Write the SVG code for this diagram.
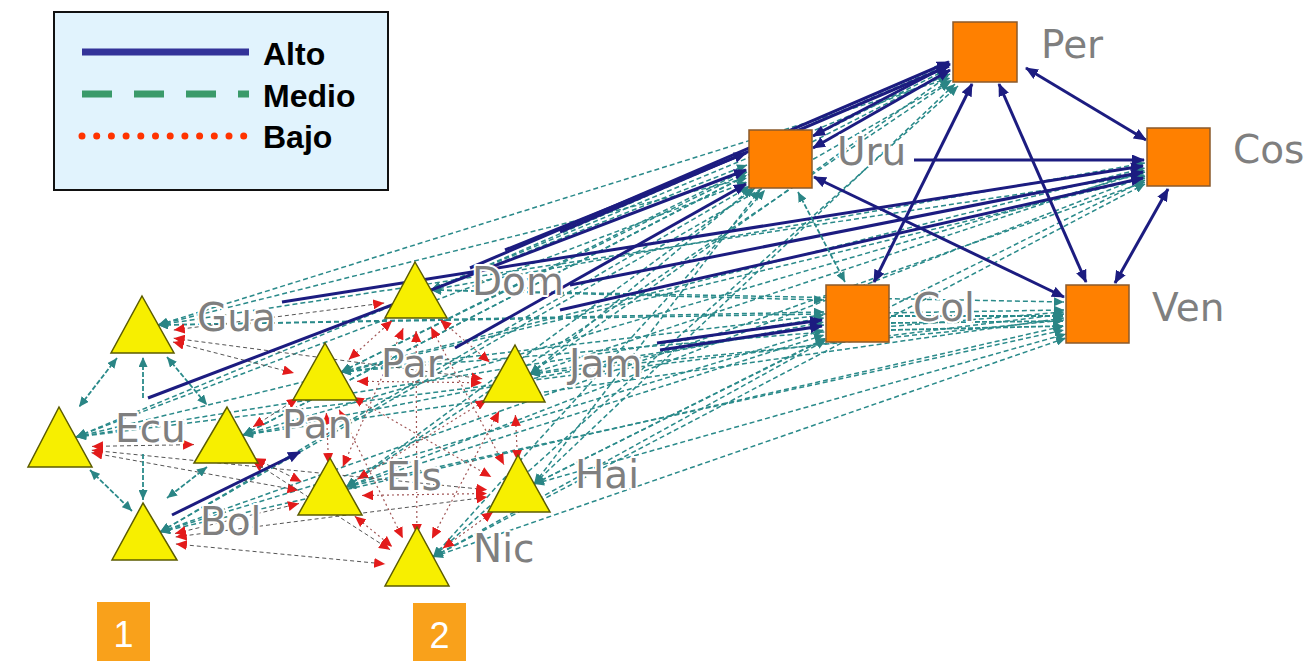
<svg xmlns="http://www.w3.org/2000/svg" width="1305" height="661" viewBox="0 0 1305 661">
<defs>
<marker id="an" markerUnits="userSpaceOnUse" markerWidth="13" markerHeight="11" refX="12" refY="5.5" orient="auto-start-reverse"><path d="M0,0 L13,5.5 L0,11 z" fill="#1c1c80"/></marker>
<marker id="at" markerUnits="userSpaceOnUse" markerWidth="10" markerHeight="9" refX="10" refY="4.5" orient="auto-start-reverse"><path d="M0,0 L10,4.5 L0,9 z" fill="#2a8585"/></marker>
<marker id="ar" markerUnits="userSpaceOnUse" markerWidth="11" markerHeight="10" refX="11" refY="5" orient="auto-start-reverse"><path d="M0,0 L11,5 L0,10 z" fill="#e31b1b"/></marker>
</defs>
<style>
.h{stroke:#1c1c80;stroke-width:3;fill:none;marker-end:url(#an)}
.hb{stroke:#1c1c80;stroke-width:3;fill:none;marker-end:url(#an);marker-start:url(#an)}
.m{stroke:#2a8a8a;stroke-width:1.5;stroke-dasharray:5 3;fill:none;marker-end:url(#at);marker-start:url(#at)}
.l{stroke:#a05555;stroke-width:1.2;stroke-dasharray:2 3;fill:none;marker-end:url(#ar);marker-start:url(#ar)}
.lt{stroke:#555;stroke-width:1;stroke-dasharray:4 3;fill:none;marker-end:url(#ar);marker-start:url(#ar)}
.ct{stroke:#2a8a8a;stroke-width:1.8;stroke-dasharray:5 2;fill:none;marker-end:url(#at);marker-start:url(#at)}
.tri{fill:#f7ef00;stroke:#5c5c00;stroke-width:1.5}
.sq{fill:#ff8000;stroke:#8b5a2b;stroke-width:1.5}
.lb{font-family:"DejaVu Sans",Verdana,sans-serif;font-size:39px;fill:#7f7f7f;stroke:#ffffff;stroke-width:4;paint-order:stroke;stroke-linejoin:round}
.lg{font-family:"Liberation Sans",Arial,sans-serif;font-size:32px;font-weight:bold;fill:#000}
.nb{font-family:"Liberation Sans",Arial,sans-serif;font-size:36px;fill:#ffffff}
</style>
<rect width="1305" height="661" fill="#ffffff"/>

<g id="legend">
<rect x="54" y="12" width="334" height="178" fill="#e1f3fd" stroke="#111" stroke-width="2"/>
<line x1="82" y1="52" x2="249" y2="52" stroke="#333399" stroke-width="7"/>
<line x1="82" y1="94" x2="249" y2="94" stroke="#3a9a6a" stroke-width="7" stroke-dasharray="30 22"/>
<line x1="82" y1="136" x2="249" y2="136" stroke="#ff3300" stroke-width="7" stroke-linecap="round" stroke-dasharray="0 14.7"/>
<text class="lg" x="263" y="65">Alto</text>
<text class="lg" x="263" y="107">Medio</text>
<text class="lg" x="263" y="148">Bajo</text>
</g>

<g id="connectors">
<line class="m" x1="158" y1="325" x2="950" y2="78"/>
<line class="m" x1="158" y1="325" x2="747" y2="178"/>
<line class="m" x1="158" y1="325" x2="1145" y2="175"/>
<line class="m" x1="158" y1="325" x2="824" y2="312"/>
<line class="m" x1="158" y1="325" x2="1064" y2="310"/>
<line class="m" x1="76" y1="437" x2="950" y2="74"/>
<line class="m" x1="76" y1="437" x2="747" y2="182"/>
<line class="m" x1="76" y1="437" x2="1145" y2="178"/>
<line class="m" x1="76" y1="437" x2="824" y2="318"/>
<line class="m" x1="76" y1="437" x2="1064" y2="314"/>
<line class="m" x1="160" y1="532" x2="952" y2="80"/>
<line class="m" x1="160" y1="532" x2="750" y2="186"/>
<line class="m" x1="160" y1="532" x2="1145" y2="182"/>
<line class="m" x1="160" y1="532" x2="824" y2="330"/>
<line class="m" x1="160" y1="532" x2="1064" y2="326"/>
<line class="m" x1="243" y1="435" x2="948" y2="72"/>
<line class="m" x1="243" y1="435" x2="747" y2="175"/>
<line class="m" x1="243" y1="435" x2="1145" y2="172"/>
<line class="m" x1="243" y1="435" x2="824" y2="322"/>
<line class="m" x1="243" y1="435" x2="1064" y2="318"/>
<line class="m" x1="341" y1="372" x2="946" y2="70"/>
<line class="m" x1="341" y1="372" x2="747" y2="172"/>
<line class="m" x1="341" y1="372" x2="1145" y2="168"/>
<line class="m" x1="341" y1="372" x2="824" y2="315"/>
<line class="m" x1="341" y1="372" x2="1064" y2="312"/>
<line class="m" x1="431" y1="290" x2="945" y2="66"/>
<line class="m" x1="431" y1="290" x2="747" y2="165"/>
<line class="m" x1="431" y1="290" x2="1145" y2="163"/>
<line class="m" x1="431" y1="290" x2="824" y2="300"/>
<line class="m" x1="431" y1="290" x2="1064" y2="302"/>
<line class="m" x1="530" y1="374" x2="948" y2="76"/>
<line class="m" x1="530" y1="374" x2="752" y2="188"/>
<line class="m" x1="530" y1="374" x2="1145" y2="170"/>
<line class="m" x1="530" y1="374" x2="824" y2="325"/>
<line class="m" x1="530" y1="374" x2="1064" y2="320"/>
<line class="m" x1="346" y1="487" x2="950" y2="82"/>
<line class="m" x1="346" y1="487" x2="755" y2="188"/>
<line class="m" x1="346" y1="487" x2="1145" y2="176"/>
<line class="m" x1="346" y1="487" x2="824" y2="335"/>
<line class="m" x1="346" y1="487" x2="1064" y2="330"/>
<line class="m" x1="534" y1="484" x2="955" y2="84"/>
<line class="m" x1="534" y1="484" x2="760" y2="190"/>
<line class="m" x1="534" y1="484" x2="1145" y2="180"/>
<line class="m" x1="534" y1="484" x2="826" y2="338"/>
<line class="m" x1="534" y1="484" x2="1066" y2="334"/>
<line class="m" x1="433" y1="557" x2="958" y2="86"/>
<line class="m" x1="433" y1="557" x2="765" y2="190"/>
<line class="m" x1="433" y1="557" x2="1145" y2="184"/>
<line class="m" x1="433" y1="557" x2="826" y2="340"/>
<line class="m" x1="433" y1="557" x2="1066" y2="338"/>
<line class="l" x1="348.8" y1="359.6" x2="392.2" y2="320.4"/>
<line class="l" x1="357" y1="381.3" x2="482" y2="382.7"/>
<line class="l" x1="326.4" y1="413" x2="328.6" y2="464"/>
<line class="l" x1="352.7" y1="397" x2="491.3" y2="477"/>
<line class="l" x1="339.2" y1="409.7" x2="402.8" y2="538.3"/>
<line class="l" x1="440.3" y1="319.8" x2="489.7" y2="362.2"/>
<line class="l" x1="403.2" y1="328.3" x2="342.8" y2="466.7"/>
<line class="l" x1="431" y1="327.3" x2="504" y2="464.7"/>
<line class="l" x1="416.1" y1="331" x2="416.9" y2="535"/>
<line class="l" x1="486.7" y1="399.7" x2="357.3" y2="479.3"/>
<line class="l" x1="515.4" y1="415" x2="517.6" y2="461"/>
<line class="l" x1="499.1" y1="411.3" x2="431.9" y2="538.7"/>
<line class="l" x1="362" y1="495.5" x2="487" y2="493.5"/>
<line class="l" x1="354.8" y1="516.2" x2="392.2" y2="546.8"/>
<line class="l" x1="493.1" y1="511.8" x2="442.9" y2="548.2"/>
<line class="lt" x1="173" y1="342" x2="294" y2="373"/>
<line class="lt" x1="173.8" y1="330" x2="384.2" y2="303"/>
<line class="lt" x1="92" y1="446.4" x2="194" y2="444.6"/>
<line class="lt" x1="91.5" y1="452.7" x2="298.5" y2="490.3"/>
<line class="lt" x1="175" y1="533.5" x2="299" y2="503.5"/>
<line class="lt" x1="175.9" y1="544" x2="385.1" y2="564"/>
<line class="lt" x1="254.6" y1="458.3" x2="301.4" y2="481.7"/>
<line class="lt" x1="253" y1="426.8" x2="298" y2="398.2"/>
<line class="lt" x1="252.9" y1="461.3" x2="390.1" y2="549.7"/>
<line class="lt" x1="173.7" y1="338.2" x2="482.3" y2="378.8"/>
<line class="lt" x1="91.8" y1="450.2" x2="487.2" y2="489.8"/>
<line class="lt" x1="175.7" y1="536.9" x2="487.3" y2="497.1"/>
<line class="ct" x1="117" y1="358" x2="79" y2="407"/>
<line class="ct" x1="143" y1="398" x2="143" y2="357" style="marker-start:none"/>
<line class="ct" x1="143" y1="454" x2="143" y2="500" style="marker-start:none"/>
<line class="ct" x1="90" y1="470" x2="132" y2="511"/>
<line class="ct" x1="167" y1="357" x2="207" y2="405"/>
<line class="ct" x1="207" y1="467" x2="167" y2="498"/>
<line class="h" x1="148" y1="398" x2="746" y2="170"/>
<line class="h" x1="282" y1="302" x2="1143" y2="166"/>
<line class="h" x1="505" y1="250" x2="746" y2="153"/>
<line class="h" x1="570" y1="285" x2="1143" y2="172"/>
<line class="h" x1="560" y1="232" x2="949" y2="66"/>
<line class="h" x1="470" y1="268" x2="949" y2="62"/>
<line class="h" x1="455" y1="348" x2="746" y2="184"/>
<line class="h" x1="560" y1="310" x2="1143" y2="178"/>
<line class="h" x1="657" y1="343" x2="822" y2="320"/>
<line class="h" x1="660" y1="350" x2="822" y2="326"/>
<line class="h" x1="172" y1="515" x2="300" y2="452"/>
<line class="hb" x1="813" y1="136" x2="950" y2="64"/>
<line class="hb" x1="813" y1="148" x2="950" y2="70"/>
<line class="hb" x1="1026" y1="68" x2="1146" y2="140"/>
<line class="hb" x1="972" y1="84" x2="874" y2="282"/>
<line class="hb" x1="999" y1="84" x2="1086" y2="282"/>
<line class="h" x1="914" y1="160" x2="1144" y2="160"/>
<line class="hb" x1="814" y1="177" x2="1064" y2="297"/>
<line class="hb" x1="1168" y1="189" x2="1115" y2="283"/>
<line class="ct" x1="798" y1="192" x2="845" y2="282"/>
<line class="ct" x1="891" y1="316" x2="1063" y2="316" style="marker-start:none"/>
<line class="ct" x1="891" y1="323" x2="1063" y2="321" style="marker-start:none"/>
<line class="ct" x1="891" y1="330" x2="1063" y2="326" style="marker-start:none"/>
</g>

<g id="node-gua"><polygon class="tri" points="142,296 174,353 111,353"/><text class="lb" x="197" y="331">Gua</text></g>
<g id="node-ecu"><polygon class="tri" points="59,407 92,467 28,467"/><text class="lb" x="115" y="442">Ecu</text></g>
<g id="node-bol"><polygon class="tri" points="143,503 177,560 112,560"/><text class="lb" x="200" y="535">Bol</text></g>
<g id="node-pan"><polygon class="tri" points="227,407 258,463 194,463"/><text class="lb" x="282" y="438">Pan</text></g>
<g id="node-par"><polygon class="tri" points="325,343 357,400 293,400"/><text class="lb" x="381" y="377">Par</text></g>
<g id="node-dom"><polygon class="tri" points="415,262 447,318 385,318"/><text class="lb" x="472" y="295">Dom</text></g>
<g id="node-jam"><polygon class="tri" points="515,345 545,402 483,402"/><text class="lb" x="569" y="377">Jam</text></g>
<g id="node-els"><polygon class="tri" points="330,458 362,515 298,515"/><text class="lb" x="386" y="490">Els</text></g>
<g id="node-hai"><polygon class="tri" points="518,455 550,512 488,512"/><text class="lb" x="575" y="488">Hai</text></g>
<g id="node-nic"><polygon class="tri" points="417,527 449,586 385,586"/><text class="lb" x="473" y="562">Nic</text></g>

<g id="node-per"><rect class="sq" x="953" y="22" width="64" height="60"/><text class="lb" x="1041" y="58">Per</text></g>
<g id="node-uru"><rect class="sq" x="749" y="130" width="63" height="58"/><text class="lb" x="837" y="165">Uru</text></g>
<g id="node-cos"><rect class="sq" x="1147" y="128" width="63" height="58"/><text class="lb" x="1233" y="163">Cos</text></g>
<g id="node-col"><rect class="sq" x="826" y="285" width="63" height="57"/><text class="lb" x="913" y="321">Col</text></g>
<g id="node-ven"><rect class="sq" x="1066" y="285" width="63" height="58"/><text class="lb" x="1152" y="321">Ven</text></g>

<g id="group-1"><rect x="97" y="602" width="53" height="59" fill="#f9a11b"/><text class="nb" x="123.5" y="647" text-anchor="middle">1</text></g>
<g id="group-2"><rect x="413" y="603" width="53" height="58" fill="#f9a11b"/><text class="nb" x="439.5" y="648" text-anchor="middle">2</text></g>
</svg>
